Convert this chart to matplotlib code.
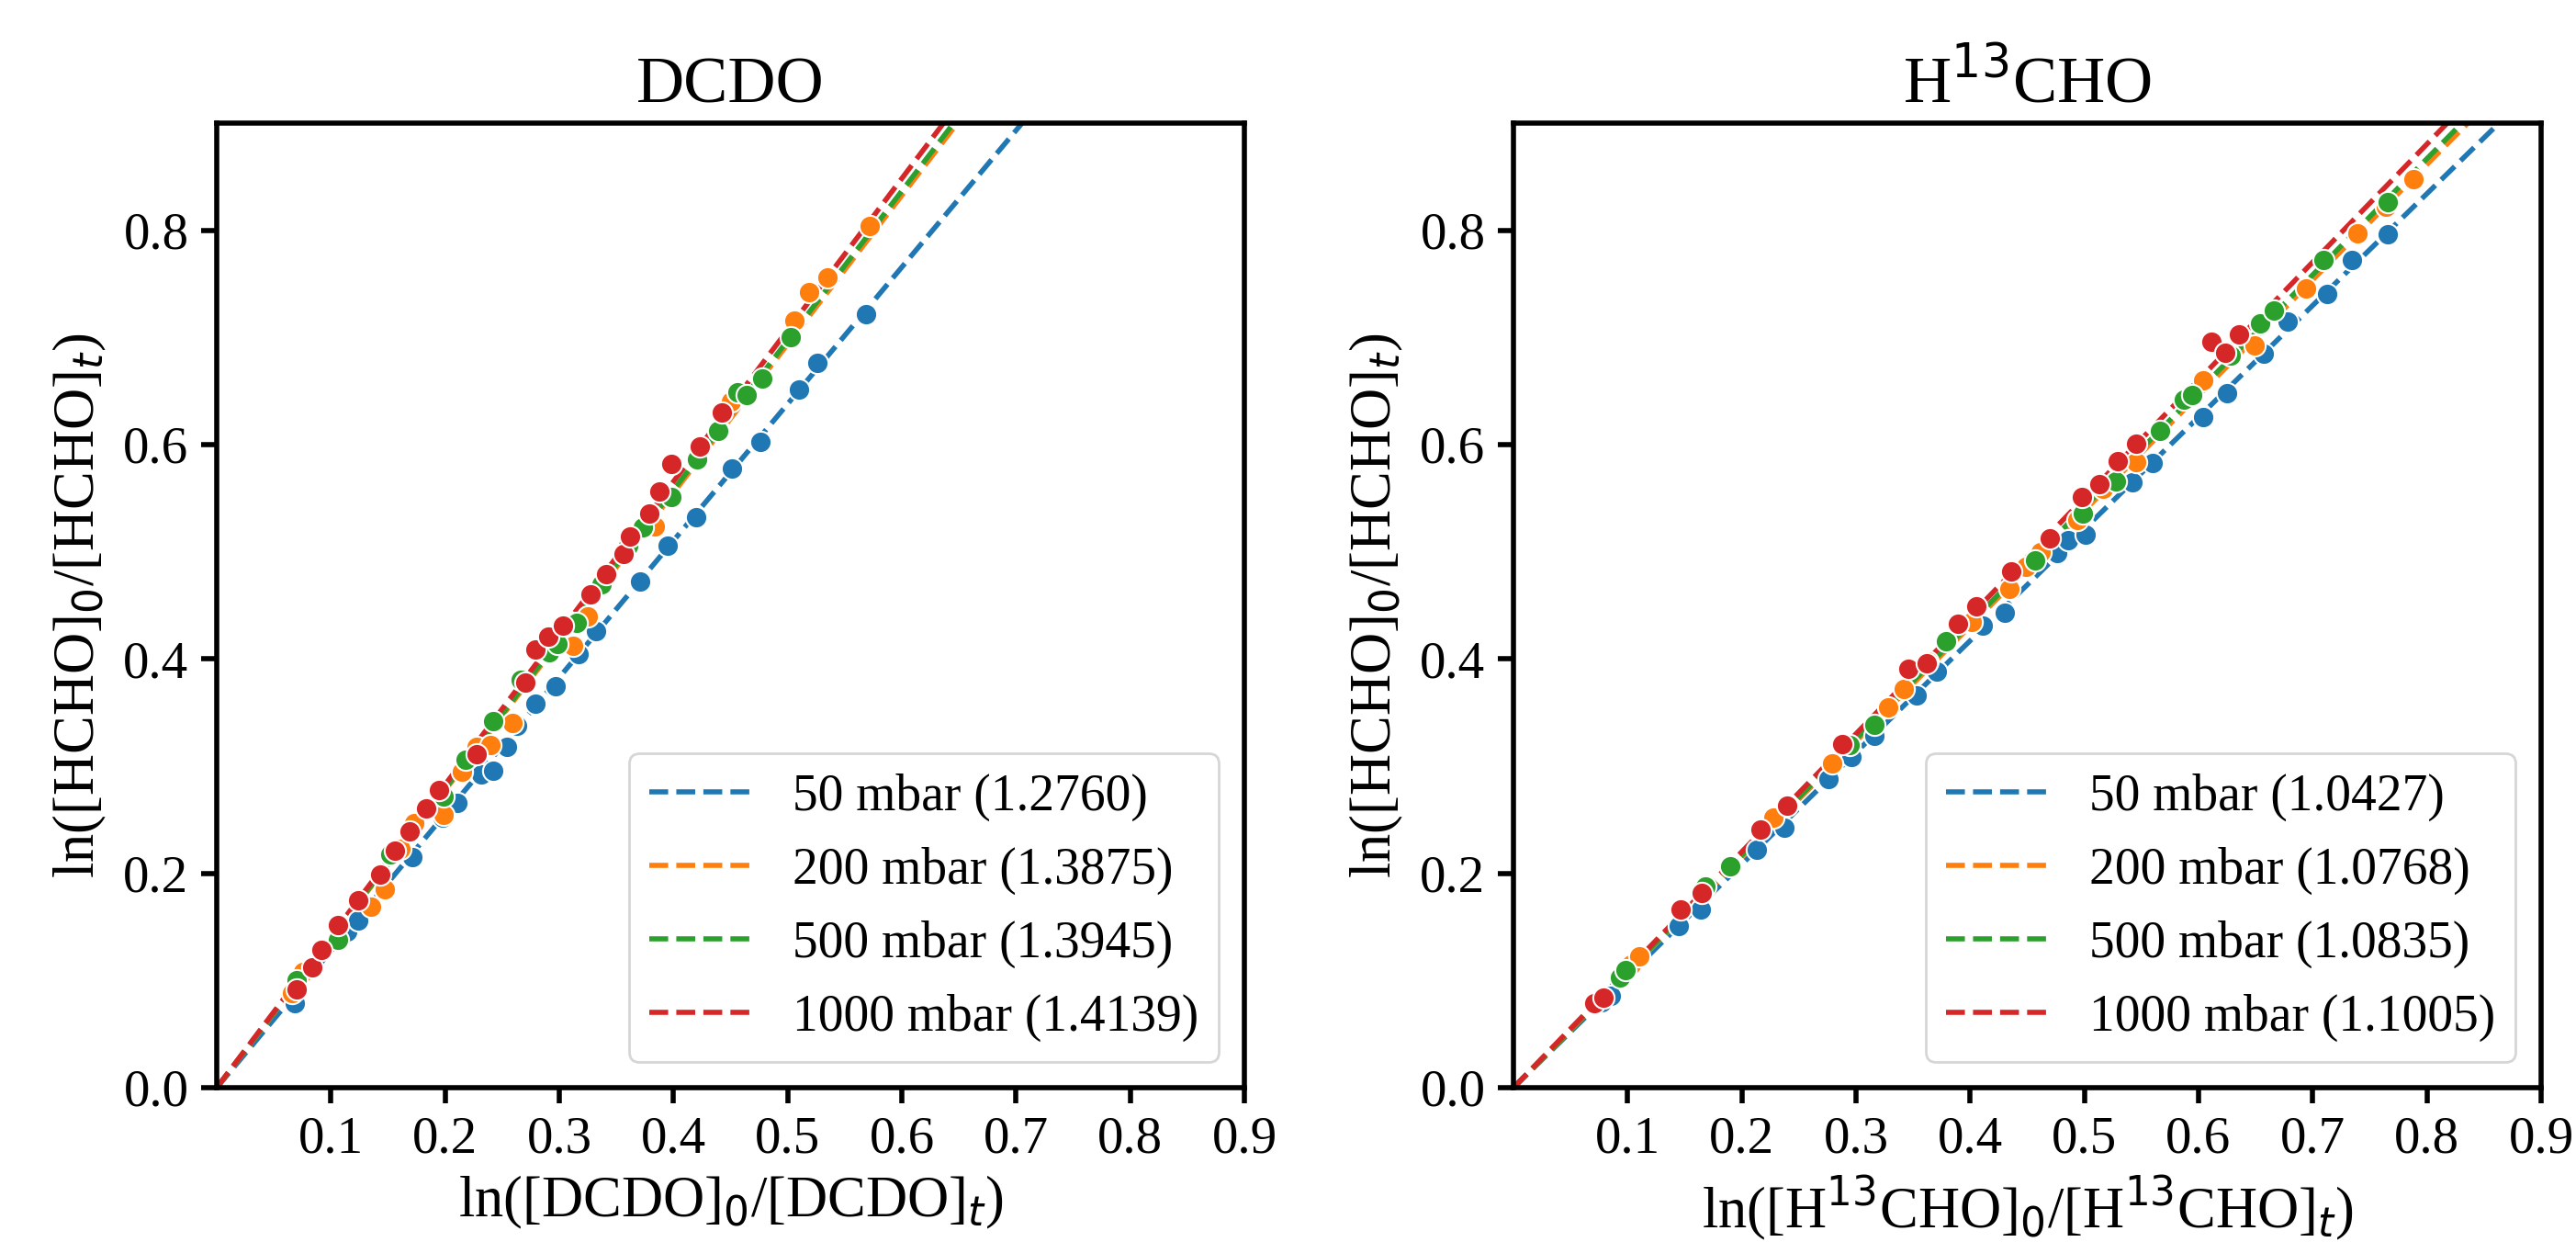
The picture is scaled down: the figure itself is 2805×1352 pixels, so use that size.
import numpy as np
import matplotlib
matplotlib.use("Agg")
import matplotlib.pyplot as plt

plt.rcParams['font.family'] = ['Liberation Serif', 'DejaVu Sans']
plt.rcParams['axes.linewidth'] = 2.0

# ---------------- data ----------------
pressures = ["50 mbar", "200 mbar", "500 mbar", "1000 mbar"]
colors = ["#1f77b4", "#ff7f0e", "#2ca02c", "#d62728"]

dcdo_slopes = [1.2760, 1.3875, 1.3945, 1.4139]
h13_slopes = [1.0427, 1.0768, 1.0835, 1.1005]

# DCDO panel
dcdo_50_x = [0.068, 0.114, 0.124, 0.171, 0.198, 0.211, 0.232, 0.242, 0.254, 0.263, 0.279,
             0.297, 0.317, 0.332, 0.371, 0.395, 0.420, 0.451, 0.476, 0.510, 0.526, 0.569]
dcdo_50_y = [0.079, 0.146, 0.156, 0.215, 0.252, 0.266, 0.292, 0.296, 0.318, 0.338, 0.358,
             0.375, 0.405, 0.426, 0.472, 0.506, 0.532, 0.578, 0.603, 0.651, 0.676, 0.722]

dcdo_200_x = [0.066, 0.076, 0.135, 0.147, 0.161, 0.173, 0.199, 0.215, 0.228, 0.240, 0.259,
              0.312, 0.325, 0.384, 0.450, 0.506, 0.519, 0.535, 0.572]
dcdo_200_y = [0.088, 0.108, 0.169, 0.185, 0.223, 0.247, 0.255, 0.295, 0.318, 0.320, 0.340,
              0.412, 0.440, 0.524, 0.640, 0.716, 0.742, 0.756, 0.804]

dcdo_500_x = [0.070, 0.106, 0.152, 0.199, 0.218, 0.242, 0.266, 0.291, 0.298, 0.315, 0.337,
              0.360, 0.373, 0.398, 0.421, 0.439, 0.456, 0.464, 0.478, 0.503]
dcdo_500_y = [0.100, 0.138, 0.218, 0.272, 0.306, 0.342, 0.381, 0.406, 0.414, 0.434, 0.470,
              0.506, 0.523, 0.551, 0.586, 0.613, 0.649, 0.646, 0.662, 0.700]

dcdo_1000_x = [0.070, 0.084, 0.092, 0.106, 0.124, 0.143, 0.156, 0.169, 0.183, 0.195, 0.228,
               0.270, 0.279, 0.290, 0.303, 0.327, 0.341, 0.356, 0.362, 0.379, 0.388, 0.398,
               0.423, 0.442]
dcdo_1000_y = [0.092, 0.112, 0.129, 0.152, 0.175, 0.199, 0.221, 0.239, 0.261, 0.278, 0.311,
               0.378, 0.409, 0.421, 0.431, 0.460, 0.479, 0.498, 0.514, 0.536, 0.556, 0.582,
               0.598, 0.630]

# H13CHO panel
h13_50_x = [0.077, 0.085, 0.145, 0.164, 0.213, 0.237, 0.276, 0.296, 0.316, 0.353, 0.371,
            0.411, 0.430, 0.476, 0.486, 0.501, 0.542, 0.560, 0.604, 0.625, 0.657, 0.678,
            0.713, 0.734, 0.766]
h13_50_y = [0.080, 0.086, 0.151, 0.166, 0.222, 0.243, 0.288, 0.309, 0.328, 0.366, 0.388,
            0.431, 0.443, 0.499, 0.511, 0.516, 0.565, 0.583, 0.626, 0.648, 0.685, 0.715,
            0.741, 0.772, 0.796]

h13_200_x = [0.103, 0.110, 0.228, 0.279, 0.328, 0.342, 0.363, 0.401, 0.434, 0.449, 0.462,
             0.494, 0.516, 0.545, 0.604, 0.649, 0.694, 0.739, 0.764, 0.788]
h13_200_y = [0.115, 0.123, 0.252, 0.303, 0.355, 0.372, 0.398, 0.435, 0.465, 0.486, 0.500,
             0.530, 0.559, 0.584, 0.660, 0.693, 0.746, 0.797, 0.822, 0.848]

h13_500_x = [0.093, 0.098, 0.168, 0.190, 0.294, 0.316, 0.379, 0.457, 0.499, 0.528, 0.566,
             0.587, 0.594, 0.628, 0.654, 0.666, 0.709, 0.766]
h13_500_y = [0.103, 0.110, 0.188, 0.207, 0.320, 0.339, 0.417, 0.492, 0.536, 0.566, 0.613,
             0.642, 0.646, 0.683, 0.713, 0.725, 0.772, 0.826]

h13_1000_x = [0.071, 0.079, 0.146, 0.165, 0.216, 0.240, 0.288, 0.346, 0.362, 0.389, 0.405,
              0.436, 0.470, 0.498, 0.513, 0.529, 0.545, 0.611, 0.623, 0.635]
h13_1000_y = [0.079, 0.084, 0.166, 0.182, 0.241, 0.263, 0.321, 0.391, 0.396, 0.433, 0.449,
              0.482, 0.513, 0.551, 0.563, 0.585, 0.601, 0.696, 0.686, 0.703]

x_ticks = [0.1, 0.2, 0.3, 0.4, 0.5, 0.6, 0.7, 0.8, 0.9]
y_ticks = [0.0, 0.2, 0.4, 0.6, 0.8]

panels = [
    dict(title="DCDO",
         xlabel=r"ln([DCDO]$_0$/[DCDO]$_t$)",
         slopes=dcdo_slopes,
         xs=[dcdo_50_x, dcdo_200_x, dcdo_500_x, dcdo_1000_x],
         ys=[dcdo_50_y, dcdo_200_y, dcdo_500_y, dcdo_1000_y]),
    dict(title=r"H$^{13}$CHO",
         xlabel=r"ln([H$^{13}$CHO]$_0$/[H$^{13}$CHO]$_t$)",
         slopes=h13_slopes,
         xs=[h13_50_x, h13_200_x, h13_500_x, h13_1000_x],
         ys=[h13_50_y, h13_200_y, h13_500_y, h13_1000_y]),
]

W, H = 2805, 1352
dpi = 200
fig = plt.figure(figsize=(W / dpi, H / dpi), dpi=dpi)

ax_lefts = [236 / W, 1648 / W]
ax_w = 1119 / W
ax_b = (H - 1184) / H
ax_h = 1050 / H

for p, left in zip(panels, ax_lefts):
    ax = fig.add_axes([left, ax_b, ax_w, ax_h])
    xfit = np.array([0.0, 0.9])
    for k, c, lab in zip(p["slopes"], colors, pressures):
        ax.plot(xfit, k * xfit, "--", color=c, lw=2.0, zorder=2,
                label=f"{lab} ({k:.4f})")
    for xs, ys, c in zip(p["xs"], p["ys"], colors):
        ax.scatter(xs, ys, s=70, color=c, edgecolors="white", linewidths=0.75, zorder=3)
    ax.set_xlim(0, 0.9)
    ax.set_ylim(0, 0.9)
    ax.set_xticks(x_ticks)
    ax.set_xticklabels([f"{t:.1f}" for t in x_ticks])
    ax.set_yticks(y_ticks)
    ax.set_yticklabels([f"{t:.1f}" for t in y_ticks])
    ax.tick_params(labelsize=20.5, length=6, width=2, pad=5)
    ax.set_title(p["title"], fontsize=26, pad=8)
    ax.set_xlabel(p["xlabel"], fontsize=22.5, labelpad=4)
    ax.set_ylabel(r"ln([HCHO]$_0$/[HCHO]$_t$)", fontsize=22.5, labelpad=6)
    ax.legend(loc="lower right", fontsize=20)

fig.savefig("out.png", dpi=dpi)
